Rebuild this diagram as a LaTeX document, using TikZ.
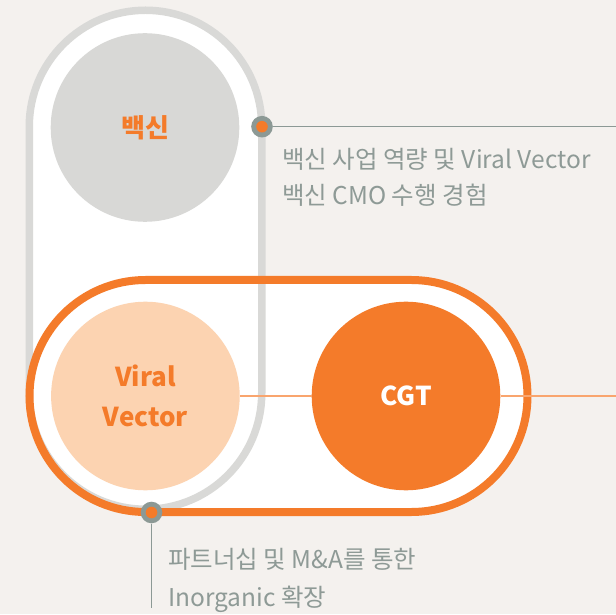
\documentclass[tikz,border=0pt]{standalone}
\usepackage{fontspec}
\setmainfont{Noto Sans CJK KR}
\definecolor{bg}{HTML}{F4F1EE}
\definecolor{pillgray}{HTML}{D9D9D7}
\definecolor{circgray}{HTML}{D8D8D6}
\definecolor{dotgray}{HTML}{8C9995}
\definecolor{txtgray}{HTML}{8E9A96}
\definecolor{orng}{HTML}{F47B2A}
\definecolor{peach}{HTML}{FCD3B1}
\definecolor{peachline}{HTML}{F9A56E}
\tikzset{
  bigcirc/.style={circle, minimum size=188.6pt, inner sep=0pt, align=center, font=\fontsize{26}{40}\selectfont\bfseries},
  caption/.style={anchor=base west, inner sep=0pt, text=txtgray, font=\fontsize{24.5}{24.5}\selectfont},
  dotring/.style={circle, fill=dotgray, minimum size=21.6pt, inner sep=0pt},
  dotcore/.style={circle, fill=orng, minimum size=11.6pt, inner sep=0pt},
  link/.style={peachline, line width=2pt},
  lead/.style={dotgray, line width=1.2pt}
}
\begin{document}
\begin{tikzpicture}[x=1pt,y=1pt]
\useasboundingbox (0,0) rectangle (616,614);
\fill[bg] (0,0) rectangle (616,614);
% white fills
\fill[white] (145.5,334) -- (411.5,334) arc[start angle=90,end angle=-90,radius=116] -- (145.5,102) arc[start angle=270,end angle=90,radius=116] -- cycle;
\fill[white] (261.75,487.5) arc[start angle=0,end angle=180,radius=116.25] -- (29.25,221) arc[start angle=180,end angle=360,radius=116.25] -- cycle;
% gray pill stroke
\draw[pillgray, line width=7.5pt] (261.75,487.5) arc[start angle=0,end angle=180,radius=116.25] -- (29.25,221) arc[start angle=180,end angle=360,radius=116.25] -- cycle;
% orange pill stroke
\draw[orng, line width=8pt] (145.5,334) -- (411.5,334) arc[start angle=90,end angle=-90,radius=116] -- (145.5,102) arc[start angle=270,end angle=90,radius=116] -- cycle;
% circles
\node[bigcirc, fill=circgray, text=orng] (vac) at (145,486.5) {백신};
\node[bigcirc, fill=peach, text=orng] (vv) at (145.4,218) {Viral\\Vector};
\node[bigcirc, fill=orng, text=white] (cgt) at (406,218) {CGT};
\coordinate (rend) at (616,218);
\draw[link] (vv.east) -- (cgt.west);
\draw[link] (cgt.east) -- (rend);
% dots and leads
\node[dotring] (d1) at (262,487.3) {};
\node[dotcore] at (d1) {};
\coordinate (d1end) at (616,487.3);
\draw[lead] (d1.east) -- (d1end);
\node[dotring] (d2) at (151.5,101.5) {};
\node[dotcore] at (d2) {};
\coordinate (d2end) at (151.5,6);
\draw[lead] (d2.south) -- (d2end);
% captions
\node[caption] (c1a) at (282,445) {백신 사업 역량 및 Viral Vector};
\node[caption] (c1b) at (282,409) {백신 CMO 수행 경험};
\node[caption] (c2a) at (168,46) {파트너십 및 M\&A를 통한};
\node[caption] (c2b) at (168,8) {Inorganic 확장};
\end{tikzpicture}
\end{document}
